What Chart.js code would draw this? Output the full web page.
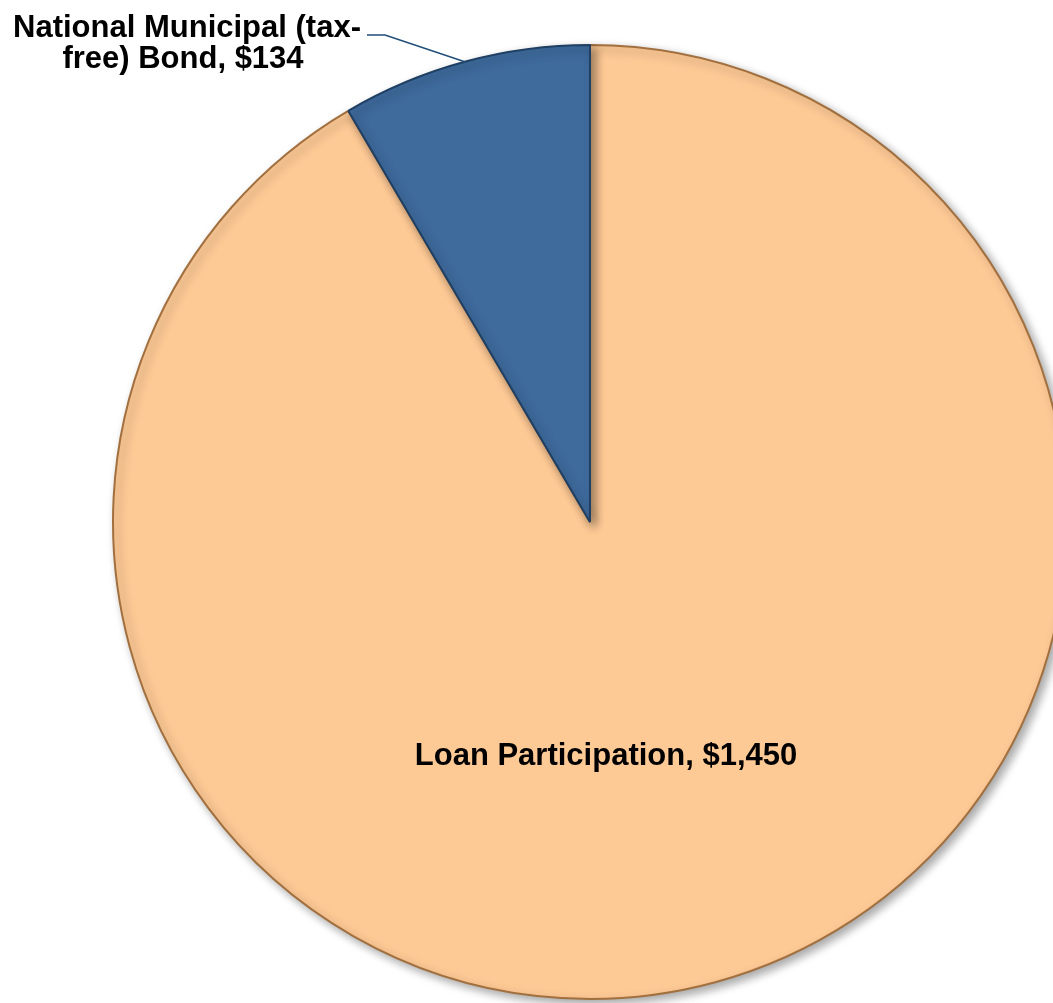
<!DOCTYPE html>
<html>
<head>
<meta charset="utf-8">
<script src="https://cdn.jsdelivr.net/npm/chart.js@4.4.0/dist/chart.umd.min.js"></script>
<style>
  html, body { margin: 0; padding: 0; background: #fff; overflow: hidden; }
  #wrap { position: absolute; left: 0; top: 0; width: 1080px; height: 1003px; }
</style>
</head>
<body>
<div id="wrap"><canvas id="pieChart"></canvas></div>
<script>
// ==== data ====
const categories = ["Loan Participation", "National Municipal (tax-free) Bond"];
const amounts = [1450, 134];
const sliceColors = ["#FDC995", "#3E6A9C"];
const edgeColors = ["#A2703F", "#1F3F63"];

// "$1,450"
function money(v) {
    return "$" + v.toLocaleString("en-US");
}

// ==== labels drawn from the arc geometry ====
const labelPlugin = {
    id: "pieLabels",
    afterDatasetsDraw(chart) {
        const ctx = chart.ctx;
        const arcs = chart.getDatasetMeta(0).data;
        ctx.save();
        ctx.fillStyle = "#000";
        ctx.font = "bold 31px 'Liberation Sans', Arial, sans-serif";
        ctx.textAlign = "center";
        ctx.textBaseline = "middle";

        // big slice: label inside
        const a0 = arcs[0];
        ctx.fillText(categories[0] + ", " + money(amounts[0]), a0.x + 16, a0.y + 234);

        // small slice: label outside with leader line
        const a1 = arcs[1];
        const mid = (a1.startAngle + a1.endAngle) / 2;
        const px = a1.x + Math.cos(mid) * a1.outerRadius;
        const py = a1.y + Math.sin(mid) * a1.outerRadius;
        ctx.strokeStyle = "#1F4E79";
        ctx.lineWidth = 1.5;
        ctx.beginPath();
        ctx.moveTo(px, py);
        ctx.lineTo(385, 35);
        ctx.lineTo(367, 35);
        ctx.stroke();

        ctx.fillText("National Municipal (tax-", 187, 28);
        ctx.fillText("free) Bond, " + money(amounts[1]), 183, 59);
        ctx.restore();
    }
};

// soft shadow under the pie
const shadowPlugin = {
    id: "pieShadow",
    beforeDatasetsDraw(chart) {
        const ctx = chart.ctx;
        ctx.save();
        ctx.shadowColor = "rgba(0,0,0,0.35)";
        ctx.shadowBlur = 10;
        ctx.shadowOffsetX = 4;
        ctx.shadowOffsetY = 4;
    },
    afterDatasetsDraw(chart) {
        chart.ctx.restore();
    }
};

// peach/blue fill with a lighter rim, a bit like the bevel in the original
function sliceFill(context) {
    const chart = context.chart;
    const arc = chart.getDatasetMeta(0).data[context.dataIndex];
    if (!arc || !arc.outerRadius) return sliceColors[context.dataIndex];
    const r = arc.outerRadius;
    const g = chart.ctx.createRadialGradient(arc.x, arc.y, 0, arc.x, arc.y, r);
    const base = sliceColors[context.dataIndex];
    g.addColorStop(0, base);
    g.addColorStop(0.9, base);
    g.addColorStop(0.96, context.dataIndex === 0 ? "#FFE3B3" : "#4F7DB0");
    g.addColorStop(1, context.dataIndex === 0 ? "#E8A56B" : "#2E5A87");
    return g;
}

new Chart(document.getElementById("pieChart"), {
    type: "pie",
    data: {
        labels: categories,
        datasets: [{
            data: amounts,
            backgroundColor: sliceFill,
            borderColor: edgeColors,
            borderWidth: 2
        }]
    },
    options: {
        responsive: true,
        maintainAspectRatio: false,
        animation: false,
        layout: { padding: { left: 112, right: 12, top: 44, bottom: 3 } },
        plugins: {
            legend: { display: false },
            tooltip: { enabled: false }
        }
    },
    plugins: [shadowPlugin, labelPlugin]
});
</script>
</body>
</html>
